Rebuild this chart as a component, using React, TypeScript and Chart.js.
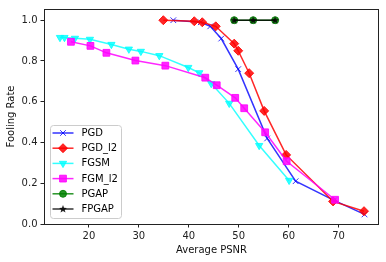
import React, { useEffect, useRef } from 'react';
import { Chart, registerables } from 'chart.js';
import { drawPoint } from 'chart.js/helpers';

Chart.register(...registerables);

const seriesNames = ['PGD', 'PGD_l2', 'FGSM', 'FGM_l2', 'PGAP', 'FPGAP'];

const pgdX = [36.9, 42.4, 44.3, 46.5, 49.9, 55.7, 61.4, 69.1, 75.2];
const pgdY = [1.0, 0.99, 0.97, 0.91, 0.76, 0.42, 0.21, 0.116, 0.047];

const pgdL2X = [34.9, 41.1, 42.7, 45.4, 49.1, 49.9, 52.1, 55.1, 59.5, 68.9, 75.1];
const pgdL2Y = [1.0, 0.995, 0.99, 0.97, 0.885, 0.85, 0.74, 0.555, 0.339, 0.111, 0.063];

const fgsmX = [14.2, 15.1, 17.2, 20.2, 24.5, 28.0, 30.4, 34.1, 39.9, 42.1, 44.5, 48.1, 54.1, 60.1];
const fgsmY = [0.915, 0.915, 0.911, 0.906, 0.881, 0.858, 0.847, 0.826, 0.768, 0.742, 0.689, 0.592, 0.385, 0.214];

const fgmL2X = [16.4, 20.3, 23.5, 29.3, 35.3, 43.3, 45.6, 49.3, 51.1, 55.3, 59.6, 69.3];
const fgmL2Y = [0.894, 0.874, 0.84, 0.802, 0.777, 0.718, 0.681, 0.619, 0.568, 0.45, 0.308, 0.119];

const pgapX = [49.1, 52.9, 57.3];
const pgapY = [1.0, 1.0, 1.0];

const fpgapX = [49.1, 52.9, 57.3];
const fpgapY = [1.0, 1.0, 1.0];

const xTicks = [20, 30, 40, 50, 60, 70];
const yTicks = [0.0, 0.2, 0.4, 0.6, 0.8, 1.0];

const FONT = "'DejaVu Sans', sans-serif";

function makeStar(): HTMLCanvasElement {
  const c = document.createElement('canvas');
  c.width = 10;
  c.height = 10;
  const g = c.getContext('2d')!;
  g.beginPath();
  const cx = 5, cy = 5.2, ro = 4.2, ri = 1.8;
  for (let i = 0; i < 10; i++) {
    const r = i % 2 === 0 ? ro : ri;
    const a = -Math.PI / 2 + (i * Math.PI) / 5;
    const px = cx + r * Math.cos(a);
    const py = cy + r * Math.sin(a);
    if (i === 0) g.moveTo(px, py);
    else g.lineTo(px, py);
  }
  g.closePath();
  g.fillStyle = 'rgba(0,0,0,0.85)';
  g.fill();
  return c;
}

const toPts = (xs: number[], ys: number[]) => xs.map((x, i) => ({ x, y: ys[i] }));

export default function App() {
  const ref = useRef<HTMLCanvasElement>(null);

  useEffect(() => {
    const star = makeStar();
    const specs = [
      { xs: pgdX, ys: pgdY, color: 'rgba(0,0,255,0.8)', style: 'crossRot', radius: 4, rot: 0 },
      { xs: pgdL2X, ys: pgdL2Y, color: 'rgba(255,0,0,0.85)', style: 'rectRot', radius: 4.5, rot: 0 },
      { xs: fgsmX, ys: fgsmY, color: 'rgba(0,255,255,0.8)', style: 'triangle', radius: 4.2, rot: 180 },
      { xs: fgmL2X, ys: fgmL2Y, color: 'rgba(255,0,255,0.85)', style: 'rect', radius: 4.8, rot: 0 },
      { xs: pgapX, ys: pgapY, color: 'rgba(0,128,0,0.85)', style: 'circle', radius: 3.5, rot: 0 },
      { xs: fpgapX, ys: fpgapY, color: 'rgba(0,0,0,0.8)', style: star as any, radius: 4, rot: 0 },
    ];

    const datasets = specs.map((s, i) => ({
      label: seriesNames[i],
      data: toPts(s.xs, s.ys),
      borderColor: s.color,
      backgroundColor: s.color,
      borderWidth: 1.5,
      pointStyle: s.style,
      pointRadius: s.radius,
      pointRotation: s.rot,
      pointBackgroundColor: s.color,
      pointBorderColor: s.color,
      pointBorderWidth: 1,
      tension: 0,
      fill: false,
      order: specs.length - i,
    }));

    const framePlugin = {
      id: 'frameAndLegend',
      afterDraw(chart: any) {
        const ctx = chart.ctx as CanvasRenderingContext2D;
        const a = chart.chartArea;
        ctx.save();
        ctx.strokeStyle = '#222';
        ctx.lineWidth = 1;
        ctx.strokeRect(Math.round(a.left) + 0.5, Math.round(a.top) + 0.5, Math.round(a.right - a.left) - 1, Math.round(a.bottom - a.top));

        // legend
        const lx = 50.5, ly = 125.5, lw = 71, lh = 93;
        ctx.beginPath();
        (ctx as any).roundRect(lx, ly, lw, lh, 3);
        ctx.fillStyle = 'rgba(255,255,255,0.8)';
        ctx.fill();
        ctx.strokeStyle = '#cccccc';
        ctx.stroke();

        specs.forEach((s, i) => {
          const y = 133 + i * 15.2;
          ctx.beginPath();
          ctx.moveTo(52.5, y);
          ctx.lineTo(73.5, y);
          ctx.strokeStyle = s.color;
          ctx.lineWidth = 1.5;
          ctx.stroke();
          ctx.fillStyle = s.color;
          ctx.strokeStyle = s.color;
          ctx.lineWidth = 1;
          drawPoint(ctx, { pointStyle: s.style, radius: s.radius, rotation: s.rot, borderWidth: 1 } as any, 63, y);
          ctx.fillStyle = '#000';
          ctx.font = `10px ${FONT}`;
          ctx.textBaseline = 'middle';
          ctx.textAlign = 'left';
          ctx.fillText(seriesNames[i], 81.5, y + 0.5);
        });
        ctx.restore();
      },
    };

    const chart = new Chart(ref.current!, {
      type: 'line',
      data: { datasets: datasets as any },
      options: {
        animation: false,
        responsive: false,
        devicePixelRatio: 1,
        layout: { padding: { top: 6, right: 7, left: 0, bottom: 0 } },
        plugins: { legend: { display: false }, tooltip: { enabled: false } },
        scales: {
          x: {
            type: 'linear',
            min: 11.0,
            max: 78.1,
            afterFit: (s: any) => { s.height = 38; },
            afterBuildTicks: (s: any) => { s.ticks = xTicks.map((v) => ({ value: v })); },
            border: { display: false },
            grid: { drawOnChartArea: false, drawTicks: true, tickLength: 3.5, tickColor: '#222', tickWidth: 1 },
            ticks: { color: '#222', font: { family: FONT, size: 10 }, padding: 3, maxRotation: 0, callback: (v: any) => String(v) },
            title: { display: true, text: 'Average PSNR', color: '#111', font: { family: FONT, size: 10 }, padding: { top: 0, bottom: 6 } },
          },
          y: {
            type: 'linear',
            min: 0,
            max: 1.055,
            afterFit: (s: any) => { s.width = 44; },
            afterBuildTicks: (s: any) => { s.ticks = yTicks.map((v) => ({ value: v })); },
            border: { display: false },
            grid: { drawOnChartArea: false, drawTicks: true, tickLength: 3.5, tickColor: '#222', tickWidth: 1 },
            ticks: { color: '#222', font: { family: FONT, size: 10 }, padding: 3, callback: (v: any) => Number(v).toFixed(1) },
            title: { display: true, text: 'Fooling Rate', color: '#111', font: { family: FONT, size: 10 }, padding: { top: 5, bottom: 0 } },
          },
        },
      },
      plugins: [framePlugin],
    });
    return () => chart.destroy();
  }, []);

  return (
    <div style={{ position: 'absolute', left: 0, top: 0, width: 386, height: 262, background: '#fff' }}>
      <canvas ref={ref} width={386} height={262} />
    </div>
  );
}
